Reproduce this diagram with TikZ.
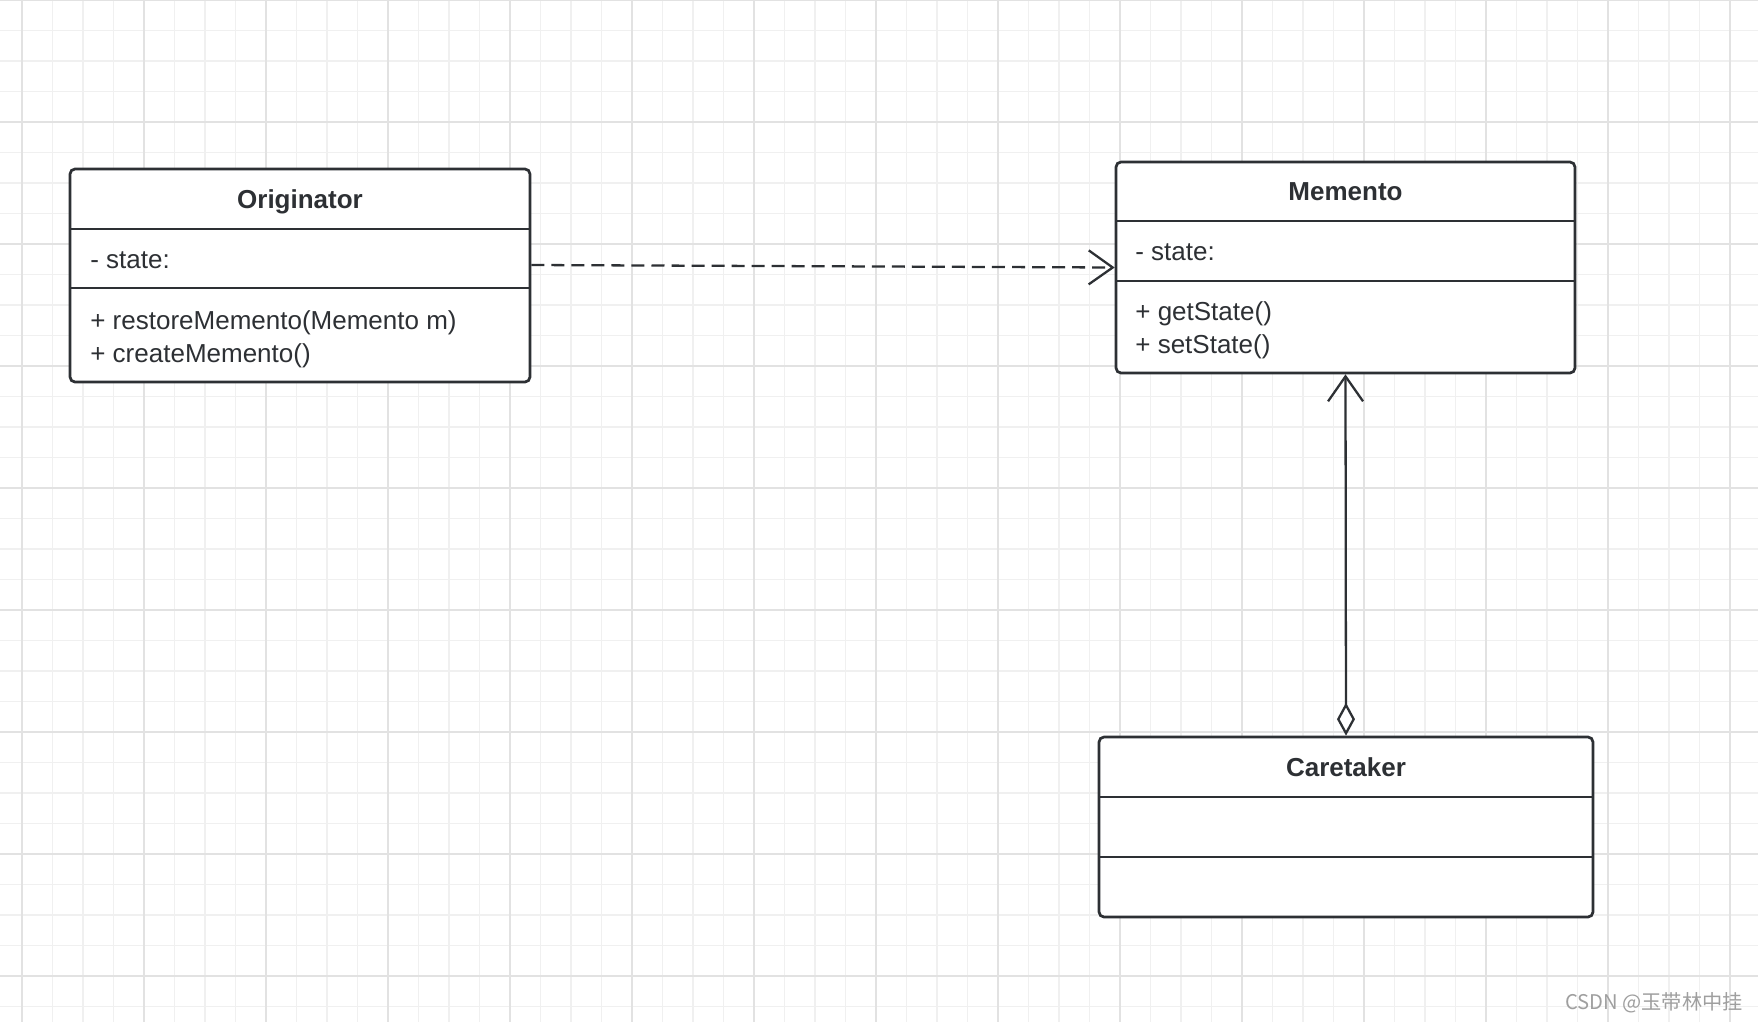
\documentclass[tikz,border=0pt]{standalone}
\usepackage{fontspec}
\setmainfont{Liberation Sans}
\newfontfamily\cjkfont{Noto Sans CJK SC}
\usetikzlibrary{arrows.meta}
\definecolor{umlink}{HTML}{2D3034}
\definecolor{gridminor}{HTML}{F0F0F0}
\definecolor{gridmajor}{HTML}{E2E2E2}
\begin{document}
\begin{tikzpicture}[x=0.02cm,y=-0.02cm,
        classbox/.style={draw=umlink, line width=1.55pt, rounded corners=2.8pt, fill=white, inner sep=0pt},
        classname/.style={font=\fontsize{14.8}{18}\selectfont\bfseries, text=umlink, text height=10.6pt, text depth=0pt},
        member/.style={font=\fontsize{14.8}{19}\selectfont, text=umlink, anchor=west, align=left, inner sep=0pt},
        link/.style={draw=umlink, line width=1.3pt},
        divider/.style={draw=umlink, line width=1.55pt}]
        \useasboundingbox (0,0) rectangle (1758,1022);
        \fill[white] (0,0) rectangle (1758,1022);
        % grid paper
        \foreach \k in {0,...,56}
            \draw[gridminor, line width=0.8pt] (22+30.5*\k,0) -- (22+30.5*\k,1022);
        \foreach \k in {0,...,33}
            \draw[gridminor, line width=0.8pt] (0,30.5*\k) -- (1758,30.5*\k);
        \foreach \k in {0,...,14}
            \draw[gridmajor, line width=0.8pt] (22+122*\k,0) -- (22+122*\k,1022);
        \foreach \k in {0,...,8}
            \draw[gridmajor, line width=0.8pt] (0,122*\k) -- (1758,122*\k);
        % classes
        \node[classbox, minimum width=9.2cm, minimum height=4.26cm] (originator) at (300,275.5) {};
        \node[classbox, minimum width=9.18cm, minimum height=4.22cm] (memento) at (1345.5,267.5) {};
        \node[classbox, minimum width=9.88cm, minimum height=3.6cm] (caretaker) at (1346,827) {};
        \draw[divider] (70,229) -- (530,229);
        \draw[divider] (70,288) -- (530,288);
        \draw[divider] (1116,221) -- (1575,221);
        \draw[divider] (1116,281) -- (1575,281);
        \draw[divider] (1099,797) -- (1593,797);
        \draw[divider] (1099,857) -- (1593,857);
        \node[classname] (originator name) at (300,199) {Originator};
        \node[member] (originator attr) at (90,260) {- state:};
        \node[member] (originator ops) at (90,339) {+ restoreMemento(Memento m)\\+ createMemento()};
        \node[classname] (memento name) at (1345.5,191.5) {Memento};
        \node[member] (memento attr) at (1135,252) {- state:};
        \node[member] (memento ops) at (1135,330) {+ getState()\\+ setState()};
        \node[classname] (caretaker name) at (1346,767) {Caretaker};
        % relations
        \draw[link, dash pattern=on 7.4pt off 4pt, -{Straight Barb[length=0.48cm, width=0.68cm]}]
            ([yshift=0.21cm]originator.east) -- (memento.west);
        \draw[link, {Diamond[fill=white, length=0.66cm, width=0.36cm]}-{Straight Barb[length=0.5cm, width=0.7cm]}]
            (caretaker.north) -- (memento.south);
        \node[font=\cjkfont\fontsize{11.5}{14}\selectfont, text=gray!75, anchor=east, inner sep=0pt] (watermark) at (1743,1003) {CSDN @玉带林中挂};
    \end{tikzpicture}
\end{document}
